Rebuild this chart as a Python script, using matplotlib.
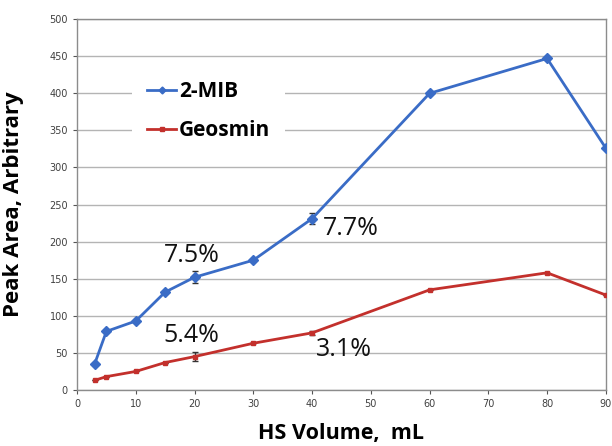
#!/usr/bin/env python3
"""Peak area vs headspace volume for 2-MIB and Geosmin."""

import matplotlib
matplotlib.use("Agg")
import matplotlib.pyplot as plt
from matplotlib.lines import Line2D

# ── Data ──────────────────────────────────────────────────────────────────────
hs_volume = [3, 5, 10, 15, 20, 30, 40, 60, 80, 90]
mib       = [35, 79, 93, 132, 152, 175, 231, 400, 447, 326]
geosmin   = [13, 18, 25, 37, 45, 63, 77, 135, 158, 128]
mib_err   = [0, 0, 0, 0, 8, 0, 7, 0, 0, 0]
geo_err   = [0, 0, 0, 0, 6, 0, 3, 0, 0, 0]

rsd_labels = ["7.5%", "5.4%", "7.7%", "3.1%"]
rsd_x      = [14.7, 14.7, 41.8, 40.7]
rsd_y      = [182, 74, 218, 54]

BLUE = "#3a6cc6"
RED  = "#c3302c"
FONT = "Open Sans"

# ── Figure ────────────────────────────────────────────────────────────────────
fig = plt.figure(figsize=(6.12, 4.46), dpi=100)
fig.patch.set_facecolor("white")
ax = fig.add_axes([0.1258, 0.1256, 0.8642, 0.8314])

ax.errorbar(hs_volume, mib, yerr=mib_err, color=BLUE, lw=2, marker="D",
            ms=5.5, capsize=2.5, ecolor="#333333", elinewidth=1, zorder=3)
ax.errorbar(hs_volume, geosmin, yerr=geo_err, color=RED, lw=2, marker="s",
            ms=3.5, capsize=2.5, ecolor="#333333", elinewidth=1, zorder=3)

for lab, x, y in zip(rsd_labels, rsd_x, rsd_y):
    ax.text(x, y, lab, ha="left", va="center", fontsize=18,
            family=FONT, color="#111111", zorder=4)

ax.set_xlim(0, 90)
ax.set_ylim(0, 500)
ax.set_xticks(range(0, 91, 10))
ax.set_yticks(range(0, 501, 50))
ax.tick_params(axis="both", labelsize=7, colors="#555555", labelcolor="#404040",
               length=3, direction="out")
ax.grid(axis="y", color="#b4b4b4", lw=1)
ax.set_axisbelow(True)
for sp in ax.spines.values():
    sp.set_color("#8c8c8c")
    sp.set_linewidth(1)

ax.set_xlabel("HS Volume,  mL", fontsize=15.5, fontweight="bold", family=FONT,
              labelpad=10)
ax.set_ylabel("Peak Area, Arbitrary", fontsize=16, fontweight="bold",
              family=FONT, labelpad=18)

handles = [
    Line2D([], [], color=BLUE, lw=2, marker="D", ms=3.5, label="2-MIB"),
    Line2D([], [], color=RED, lw=2, marker="s", ms=2.5, label="Geosmin"),
]
leg = ax.legend(handles=handles, loc="upper left", bbox_to_anchor=(0.085, 0.90),
                frameon=True, facecolor="white", edgecolor="none", framealpha=1,
                handlelength=1.4, handletextpad=0.15, borderpad=0.7,
                labelspacing=0.85,
                prop={"family": FONT, "weight": "bold", "size": 15})

fig.savefig("out.png", dpi=100, facecolor="white")
